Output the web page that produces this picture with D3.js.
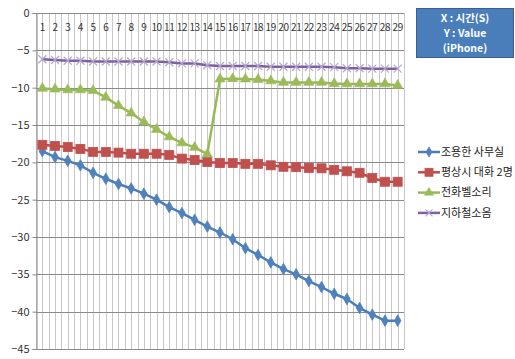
<!DOCTYPE html>
<html>
<head>
<meta charset="utf-8">
<script src="https://cdn.jsdelivr.net/npm/d3@7"></script>
<style>
  html, body { margin: 0; padding: 0; background: #ffffff; }
  svg { display: block; }
  text { font-family: "Noto Sans CJK KR", "Noto Sans", sans-serif; }
</style>
</head>
<body>
<svg id="chart" width="515" height="359"></svg>
<script>
// Seconds 1..29
const seconds = d3.range(1, 30);

// Measured values per second
const quietOffice = [-18.5, -19.3, -19.8, -20.4, -21.4, -22.2, -22.9, -23.5, -24.2, -25.0,
  -26.0, -26.8, -27.7, -28.6, -29.4, -30.3, -31.5, -32.4, -33.4, -34.3,
  -35.0, -35.9, -36.7, -37.6, -38.3, -39.5, -40.4, -41.2, -41.2];
const conversation = [-17.65, -17.8, -17.95, -18.2, -18.6, -18.6, -18.7, -18.85, -18.85, -18.85,
  -19.0, -19.5, -19.7, -19.95, -20.1, -20.1, -20.2, -20.2, -20.4, -20.6,
  -20.65, -20.75, -20.8, -21.0, -21.2, -21.4, -22.1, -22.6, -22.6];
const phoneRing = [-10.1, -10.2, -10.3, -10.3, -10.4, -11.3, -12.4, -13.4, -14.6, -15.6,
  -16.6, -17.4, -18.0, -18.9, -8.85, -8.8, -8.85, -8.9, -9.1, -9.3,
  -9.3, -9.3, -9.3, -9.45, -9.5, -9.5, -9.5, -9.5, -9.7];
const subwayNoise = [-6.2, -6.3, -6.4, -6.4, -6.5, -6.5, -6.5, -6.5, -6.5, -6.5,
  -6.6, -6.75, -6.75, -7.0, -7.1, -7.1, -7.1, -7.1, -7.2, -7.2,
  -7.2, -7.2, -7.2, -7.25, -7.4, -7.4, -7.45, -7.45, -7.45];

const seriesNames = ["조용한 사무실", "평상시 대화 2명", "전화벨소리", "지하철소음"];
const yTicks = [0, -5, -10, -15, -20, -25, -30, -35, -40, -45];
const infoLines = ["X : 시간(S)", "Y : Value", "(iPhone)"];

const series = [
  { name: seriesNames[0], values: quietOffice, line: "#4a7ebb", marker: "#4f81bd", shape: "diamond" },
  { name: seriesNames[1], values: conversation, line: "#be4b48", marker: "#c0504d", shape: "square" },
  { name: seriesNames[2], values: phoneRing, line: "#98b954", marker: "#9bbb59", shape: "triangle" },
  { name: seriesNames[3], values: subwayNoise, line: "#7d60a0", marker: "#8064a2", shape: "cross" }
];

const svg = d3.select("#chart");
const plot = { left: 36, right: 404, top: 13, bottom: 349 };

const x = d3.scaleBand().domain(seconds).range([plot.left, plot.right]).padding(0);
const y = d3.scaleLinear().domain([-45, 0]).range([plot.bottom, plot.top]);
const cx = d => x(d) + x.bandwidth() / 2;

// Vertical gridlines at band edges and band centres
const g = svg.append("g");
const vLines = [];
seconds.forEach(s => { vLines.push(x(s)); vLines.push(cx(s)); });
vLines.push(plot.right);
g.selectAll("line.v").data(vLines).join("line")
  .attr("x1", d => Math.round(d) + 0.5).attr("x2", d => Math.round(d) + 0.5)
  .attr("y1", plot.top).attr("y2", plot.bottom)
  .attr("stroke", "#c8c8c8").attr("stroke-width", 1);

// Horizontal gridlines and y axis
const yAxis = d3.axisLeft(y).tickValues(yTicks).tickSize(4).tickPadding(3)
  .tickFormat(d3.format("d"));
const ya = svg.append("g").attr("transform", `translate(${plot.left + 0.5},0)`).call(yAxis);
ya.select(".domain").attr("stroke", "#8a8a8a");
ya.selectAll(".tick line").attr("stroke", "#8a8a8a");
ya.selectAll(".tick text").attr("font-size", 11).attr("fill", "#333")
  .attr("font-family", "'Noto Sans CJK KR', sans-serif");
g.selectAll("line.h").data(yTicks).join("line")
  .attr("x1", plot.left).attr("x2", plot.right)
  .attr("y1", d => Math.round(y(d)) + 0.5).attr("y2", d => Math.round(y(d)) + 0.5)
  .attr("stroke", "#8a8a8a").attr("stroke-width", 1);

// Category labels below the zero line
const xAxis = d3.axisBottom(x).tickSize(0).tickPadding(11);
const xa = svg.append("g").attr("transform", `translate(0,${y(0)})`).call(xAxis);
xa.select(".domain").remove();
xa.selectAll(".tick text").attr("font-size", 10).attr("fill", "#333")
  .attr("letter-spacing", "-0.4")
  .attr("font-family", "'Noto Sans CJK KR', sans-serif");

// Marker drawing helper
function drawMarker(sel, shape, color, size) {
  if (shape === "diamond") {
    sel.append("path").attr("d", d3.symbol(d3.symbolDiamond, size * size * 0.6)())
      .attr("fill", color).attr("stroke", color).attr("stroke-width", 0.8);
  } else if (shape === "square") {
    sel.append("rect").attr("x", -size / 2).attr("y", -size / 2)
      .attr("width", size).attr("height", size)
      .attr("fill", color).attr("stroke", color).attr("stroke-width", 0.8);
  } else if (shape === "triangle") {
    sel.append("path").attr("d", d3.symbol(d3.symbolTriangle, size * size * 0.55)())
      .attr("fill", color).attr("stroke", color).attr("stroke-width", 0.6);
  } else {
    const r = size / 2;
    sel.append("path").attr("d", `M${-r},${-r}L${r},${r}M${-r},${r}L${r},${-r}`)
      .attr("stroke", "#b7a6cf").attr("stroke-width", 1.2).attr("fill", "none");
  }
}

const line = d3.line().x((d, i) => cx(seconds[i])).y(d => y(d));
const markerSize = { diamond: 8, square: 9, triangle: 9, cross: 8 };

series.forEach(s => {
  const sg = svg.append("g");
  sg.append("path").datum(s.values).attr("d", line)
    .attr("fill", "none").attr("stroke", s.line).attr("stroke-width", 2.5)
    .attr("stroke-linejoin", "round");
  sg.selectAll("g.m").data(s.values).join("g")
    .attr("transform", (d, i) => `translate(${cx(seconds[i])},${y(d)})`)
    .each(function () { drawMarker(d3.select(this), s.shape, s.marker, markerSize[s.shape]); });
});

// Legend
const legend = svg.append("g").attr("transform", "translate(418,152)");
series.forEach((s, i) => {
  const lg = legend.append("g").attr("transform", `translate(0,${i * 20.3})`);
  lg.append("line").attr("x1", 0).attr("x2", 22).attr("y1", 0).attr("y2", 0)
    .attr("stroke", s.line).attr("stroke-width", 2.5);
  const m = lg.append("g").attr("transform", "translate(11,0)");
  drawMarker(m, s.shape, s.marker, markerSize[s.shape] - 1);
  lg.append("text").attr("x", 23).attr("y", 0).attr("dy", "0.35em")
    .attr("font-size", 11).attr("fill", "#222").text(s.name);
});

// Info box
const box = svg.append("g").attr("transform", "translate(416,8)");
box.append("rect").attr("x", 0.5).attr("y", 0.5).attr("width", 97).attr("height", 49)
  .attr("fill", "#4a7ebb").attr("stroke", "#3a5f8e").attr("stroke-width", 1);
infoLines.forEach((t, i) => {
  box.append("text").attr("x", 49).attr("y", 10 + i * 15).attr("dy", "0.35em")
    .attr("text-anchor", "middle").attr("font-size", 10.5).attr("font-weight", "bold")
    .attr("fill", "#ffffff").text(t);
});
</script>
</body>
</html>
